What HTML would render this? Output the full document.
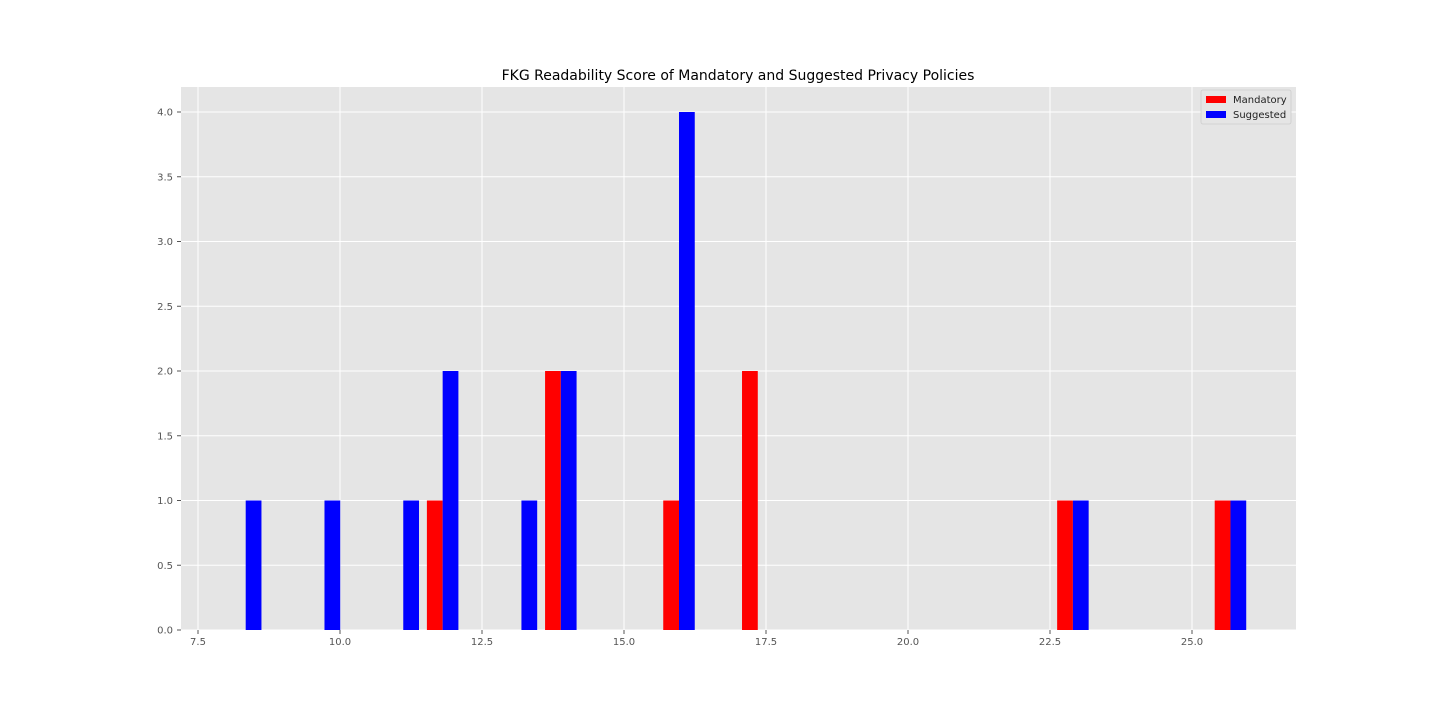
<!DOCTYPE html>
<html><head><meta charset="utf-8"><style>
body{margin:0;background:#fff;font-family:"DejaVu Sans","Liberation Sans",sans-serif;}
</style></head><body>
<svg id="chart" width="1440" height="720" viewBox="0 0 1440 720" xmlns="http://www.w3.org/2000/svg" font-family="DejaVu Sans, Liberation Sans, sans-serif">
<rect x="0" y="0" width="1440" height="720" fill="#fff"/>
<rect x="181" y="87" width="1115" height="543" fill="#e5e5e5"/>
<g id="grid"></g>
<g id="bars"></g>
<g id="axes"></g>
<text x="738" y="80" text-anchor="middle" font-size="14" fill="#000">FKG Readability Score of Mandatory and Suggested Privacy Policies</text>
<g>
<rect x="1201" y="90" width="90" height="34" fill="#e5e5e5" stroke="#ccc" stroke-width="0.8" rx="2"/>
<rect x="1206" y="96" width="20" height="7" fill="#ff0000"/>
<text x="1233" y="103" font-size="10" fill="#222">Mandatory</text>
<rect x="1206" y="111" width="20" height="7" fill="#0000ff"/>
<text x="1233" y="118" font-size="10" fill="#222">Suggested</text>
</g>
</svg>
<script>
const binStart = 7.993;
const binWidth = 0.6935;
const mandatory = [0,0,0,0,0,1,0,0,2,0,0,1,0,2,0,0,0,0,0,0,0,1,0,0,0,1];
const suggested = [1,0,1,0,1,2,0,1,2,0,0,4,0,0,0,0,0,0,0,0,0,1,0,0,0,1];
const xTicks = [7.5,10.0,12.5,15.0,17.5,20.0,22.5,25.0];
const yTicks = [0.0,0.5,1.0,1.5,2.0,2.5,3.0,3.5,4.0];

const NS="http://www.w3.org/2000/svg";
const X0=181,X1=1296,Y0=630,Y1=87;
const xmin=7.2007,xmax=26.831,ymin=0,ymax=4.1931;
const xs=v=>X0+(v-xmin)/(xmax-xmin)*(X1-X0);
const ys=v=>Y0-(v-ymin)/(ymax-ymin)*(Y0-Y1);
function mk(tag,attrs,parent){const e=document.createElementNS(NS,tag);for(const k in attrs)e.setAttribute(k,attrs[k]);parent.appendChild(e);return e;}
const grid=document.getElementById('grid'),bars=document.getElementById('bars'),axes=document.getElementById('axes');
xTicks.forEach(t=>{
 const l=mk('line',{x1:xs(t),x2:xs(t),y1:Y1,y2:Y0,stroke:'#fff','stroke-width':1},grid);
 
 
 const tk=mk('line',{x1:xs(t),x2:xs(t),y1:Y0,y2:Y0+4,stroke:'#555','stroke-width':1},axes);
 
 
 const tx=mk('text',{x:xs(t),y:Y0+15,'text-anchor':'middle','font-size':10,fill:'#555'},axes);
 tx.textContent=t.toFixed(1);
 
 
});
yTicks.forEach(t=>{
 const l=mk('line',{x1:X0,x2:X1,y1:ys(t),y2:ys(t),stroke:'#fff','stroke-width':1},grid);
 
 
 const tk=mk('line',{x1:X0-4,x2:X0,y1:ys(t),y2:ys(t),stroke:'#555','stroke-width':1},axes);
 
 
 const tx=mk('text',{x:X0-8,y:ys(t)+3.5,'text-anchor':'end','font-size':10,fill:'#555'},axes);
 tx.textContent=t.toFixed(1);
 
 
});
const bw=binWidth*0.4;
mandatory.forEach((v,i)=>{
 if(!v)return;
 const l=binStart+i*binWidth+binWidth*0.1;
 const r=mk('rect',{x:xs(l),y:ys(v),width:xs(l+bw)-xs(l),height:ys(0)-ys(v),fill:'#ff0000'},bars);
 
 
});
suggested.forEach((v,i)=>{
 if(!v)return;
 const l=binStart+i*binWidth+binWidth*0.1+bw;
 const r=mk('rect',{x:xs(l),y:ys(v),width:xs(l+bw)-xs(l),height:ys(0)-ys(v),fill:'#0000ff'},bars);
 
 
});
</script>
</body></html>
